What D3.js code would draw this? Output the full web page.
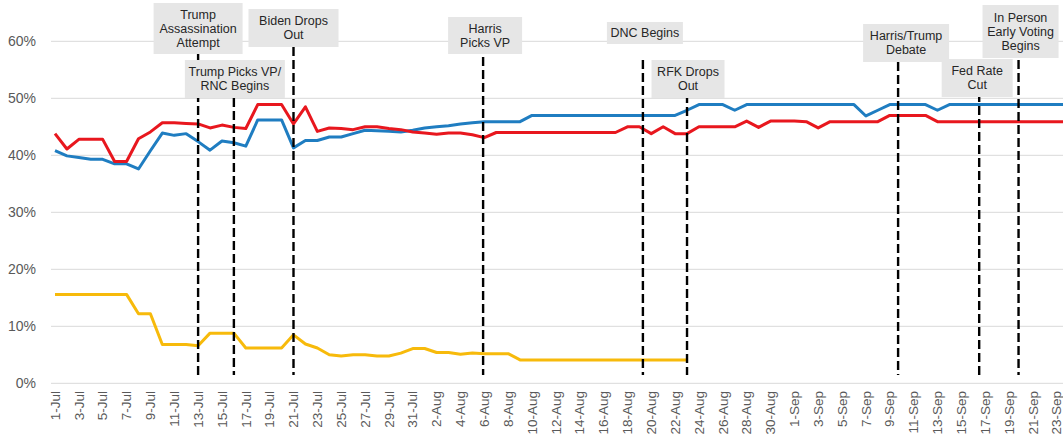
<!DOCTYPE html>
<html>
<head>
<meta charset="utf-8">
<script src="https://cdn.jsdelivr.net/npm/d3@7"></script>
<style>
  html, body { margin: 0; padding: 0; background: #fff; }
  svg { display: block; }
</style>
</head>
<body>
<svg id="chart" width="1063" height="439"></svg>
<script>
// ---------- DATA ----------
// Day index 0 = 1-Jul (daily categories through 24-Sep)
const tickLabels = ["1-Jul","3-Jul","5-Jul","7-Jul","9-Jul","11-Jul","13-Jul","15-Jul","17-Jul","19-Jul","21-Jul","23-Jul","25-Jul","27-Jul","29-Jul","31-Jul",
  "2-Aug","4-Aug","6-Aug","8-Aug","10-Aug","12-Aug","14-Aug","16-Aug","18-Aug","20-Aug","22-Aug","24-Aug","26-Aug","28-Aug","30-Aug",
  "1-Sep","3-Sep","5-Sep","7-Sep","9-Sep","11-Sep","13-Sep","15-Sep","17-Sep","19-Sep","21-Sep","23-Sep"];
const yTicks = [0, 10, 20, 30, 40, 50, 60];

// Democratic candidate (blue)
const blueValues = [40.8,39.9,39.6,39.3,39.3,38.5,38.5,37.6,40.8,43.9,43.5,43.8,42.4,40.9,42.5,42.2,41.6,46.2,46.2,46.2,
  41.3,42.6,42.6,43.2,43.2,43.8,44.4,44.3,44.2,44.1,44.4,44.8,45.0,45.2,45.5,45.7,45.9,45.9,45.9,45.9,
  47.0,47.0,47.0,47.0,47.0,47.0,47.0,47.0,47.0,47.0,47.0,47.0,47.0,47.9,48.9,48.9,48.9,47.9,48.9,48.9,
  48.9,48.9,48.9,48.9,48.9,48.9,48.9,48.9,46.9,47.9,48.9,48.9,48.9,48.9,47.9,48.9,48.9,48.9,48.9,48.9,
  48.9,48.9,48.9,48.9,48.9,48.9];
// Trump (red)
const redValues = [43.8,41.1,42.8,42.8,42.8,38.9,38.9,42.9,44.1,45.7,45.7,45.6,45.5,44.8,45.3,44.9,44.7,48.9,48.9,48.9,
  45.5,48.5,44.2,44.8,44.7,44.5,45.0,45.0,44.7,44.5,44.1,43.9,43.7,43.9,43.9,43.6,43.1,44.0,44.0,44.0,
  44.0,44.0,44.0,44.0,44.0,44.0,44.0,44.0,45.0,45.0,43.8,45.0,43.8,43.8,45.0,45.0,45.0,45.0,46.0,44.9,
  46.0,46.0,46.0,45.9,44.8,45.9,45.9,45.9,45.9,45.9,47.0,47.0,47.0,47.0,45.9,45.9,45.9,45.9,45.9,45.9,
  45.9,45.9,45.9,45.9,45.9,45.9];
// RFK Jr. (yellow), ends when he drops out
const yellowValues = [15.6,15.6,15.6,15.6,15.6,15.6,15.6,12.2,12.2,6.8,6.8,6.8,6.6,8.8,8.8,8.8,6.2,6.2,6.2,6.2,
  8.5,6.9,6.2,5.0,4.8,5.0,5.0,4.8,4.8,5.3,6.1,6.1,5.4,5.4,5.1,5.3,5.2,5.2,5.2,4.1,
  4.1,4.1,4.1,4.1,4.1,4.1,4.1,4.1,4.1,4.1,4.1,4.1,4.1,4.1];

const eventNames = [
  ["Trump","Assassination","Attempt"],
  ["Trump Picks VP/","RNC Begins"],
  ["Biden Drops","Out"],
  ["Harris","Picks VP"],
  ["DNC Begins"],
  ["RFK Drops","Out"],
  ["Harris/Trump","Debate"],
  ["Fed Rate","Cut"],
  ["In Person","Early Voting","Begins"]
];
const eventDays = [12, 15, 20, 35.9, 49.3, 53, 70.7, 77.5, 80.8];

// ---------- LAYOUT (annotation boxes) ----------
const boxLayout = [
  {w: 89, top: 3,  bottom: 54, dx: 0,  lineTop: 54},
  {w: 100,top: 60, bottom: 98, dx: 1,  lineTop: 98},
  {w: 90, top: 9,  bottom: 47, dx: 0,  lineTop: 47},
  {w: 74, top: 17, bottom: 54, dx: 2,  lineTop: 57},
  {w: 76, top: 22, bottom: 44, dx: 2,  lineTop: 60},
  {w: 73, top: 60, bottom: 98, dx: 1,  lineTop: 94},
  {w: 86, top: 24, bottom: 62, dx: 8,  lineTop: 62},
  {w: 71, top: 59, bottom: 97, dx: -2, lineTop: 93},
  {w: 76, top: 5,  bottom: 58, dx: 2,  lineTop: 60}
];

// ---------- CHART ----------
const svg = d3.select("#chart");
const x = d3.scaleLinear().domain([0, 84]).range([55, 1056.7]);
const y = d3.scaleLinear().domain([0, 60]).range([383.3, 41.3]);

// gridlines
svg.append("g").selectAll("line").data(yTicks).join("line")
  .attr("x1", 51).attr("x2", 1063)
  .attr("y1", d => y(d)).attr("y2", d => y(d))
  .attr("stroke", "#d9d9d9").attr("stroke-width", 1);

// y labels
svg.append("g").selectAll("text").data(yTicks).join("text")
  .attr("x", 36).attr("y", d => y(d)).attr("dy", "0.35em")
  .attr("text-anchor", "end")
  .attr("font-family", "'Liberation Sans', Arial, sans-serif")
  .attr("font-size", 14).attr("fill", "#595959")
  .text(d => d + "%");

// x labels
svg.append("g").selectAll("text").data(tickLabels).join("text")
  .attr("transform", (d, i) => `translate(${x(i * 2)},391) rotate(-90)`)
  .attr("dy", "0.35em")
  .attr("text-anchor", "end")
  .attr("font-family", "'Liberation Sans', Arial, sans-serif")
  .attr("font-size", 13.5).attr("fill", "#595959")
  .text(d => d);

// series
const line = d3.line().x((d, i) => x(i)).y(d => y(d));
const series = [
  {values: yellowValues, color: "#F7BA0B"},
  {values: blueValues, color: "#1F7DC1"},
  {values: redValues, color: "#E8171E"}
];
svg.append("g").selectAll("path").data(series).join("path")
  .attr("d", d => line(d.values))
  .attr("fill", "none")
  .attr("stroke", d => d.color)
  .attr("stroke-width", 3)
  .attr("stroke-linejoin", "round")
  .attr("stroke-linecap", "butt");

// event dashed lines
const events = eventNames.map((n, i) => ({name: n, day: eventDays[i], lay: boxLayout[i]}));
svg.append("g").selectAll("line").data(events).join("line")
  .attr("x1", d => x(d.day)).attr("x2", d => x(d.day))
  .attr("y1", d => d.lay.lineTop).attr("y2", 375)
  .attr("stroke", "#000").attr("stroke-width", 2.4)
  .attr("stroke-dasharray", "9,4");

// annotation boxes
const boxes = svg.append("g").selectAll("g").data(events).join("g");
boxes.append("rect")
  .attr("x", d => x(d.day) + d.lay.dx - d.lay.w / 2)
  .attr("y", d => d.lay.top)
  .attr("width", d => d.lay.w)
  .attr("height", d => d.lay.bottom - d.lay.top)
  .attr("fill", "#e6e6e6");
boxes.each(function(d) {
  const g = d3.select(this);
  const cx = x(d.day) + d.lay.dx;
  const cy = (d.lay.top + d.lay.bottom) / 2;
  const lh = 13.8;
  const n = d.name.length;
  g.selectAll("text").data(d.name).join("text")
    .attr("x", cx)
    .attr("y", (t, j) => cy + (j - (n - 1) / 2) * lh)
    .attr("dy", "0.35em")
    .attr("text-anchor", "middle")
    .attr("font-family", "'Liberation Sans Narrow', 'Liberation Sans', Arial, sans-serif")
    .attr("font-size", 12.5).attr("fill", "#262626")
    .text(t => t);
});
</script>
</body>
</html>
